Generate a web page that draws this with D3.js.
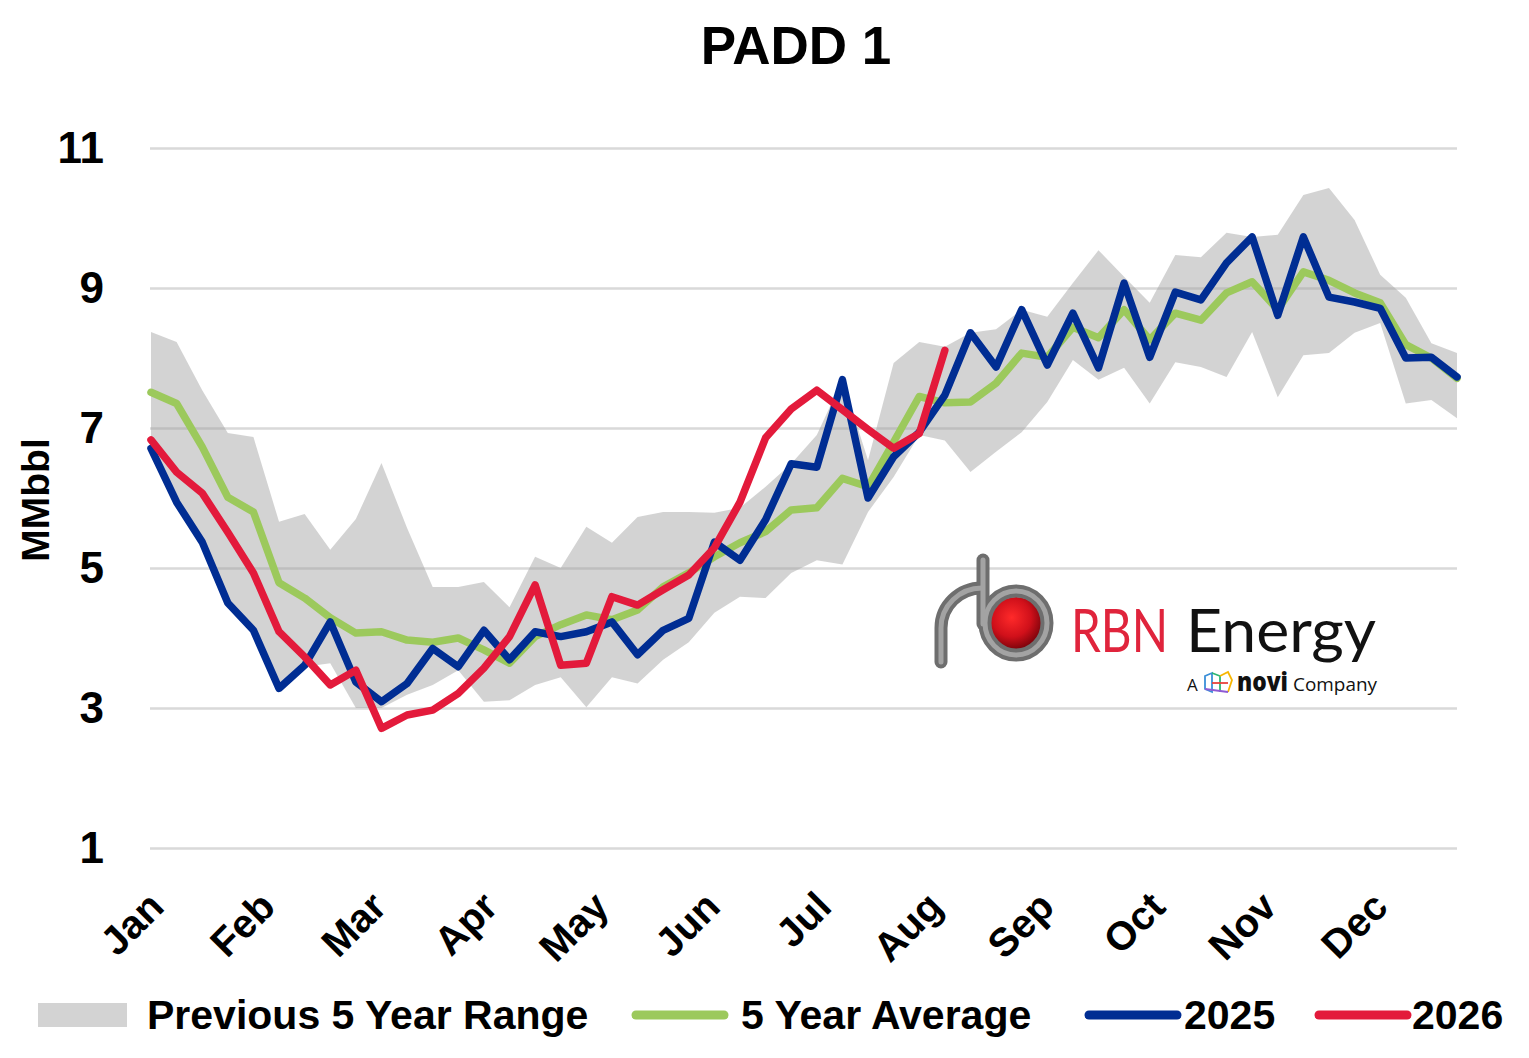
<!DOCTYPE html>
<html>
<head>
<meta charset="utf-8">
<script src="https://cdn.jsdelivr.net/npm/d3@7/dist/d3.min.js"></script>
<style>
    html, body { margin: 0; padding: 0; background: #fff; }
    svg { display: block; font-family: "Liberation Sans", Arial, sans-serif; }
    .grid line { stroke: #d9d9d9; stroke-width: 2.5; }
    .grid text { font-size: 44px; font-weight: bold; fill: #000; }
    .month { font-size: 40px; font-weight: bold; fill: #000; }
    .legend text { font-size: 41px; font-weight: bold; fill: #000; }
</style>
</head>
<body>
<svg id="chart" width="1529" height="1058"></svg>
<script>
/*global d3*/

// weekly inventory, MMbbl
const months = ["Jan", "Feb", "Mar", "Apr", "May", "Jun", "Jul", "Aug", "Sep", "Oct", "Nov", "Dec"];
const yTicks = [1, 3, 5, 7, 9, 11];

const rangeHigh = [8.37, 8.23, 7.54, 6.93, 6.87, 5.66, 5.77, 5.26, 5.70, 6.50, 5.57, 4.73, 4.73, 4.80, 4.44, 5.16,
    5.00, 5.59, 5.36, 5.73, 5.80, 5.80, 5.79, 5.86, 6.16, 6.49, 6.90, 7.69, 6.54, 7.93, 8.23, 8.16,
    8.36, 8.41, 8.69, 8.59, 9.07, 9.54, 9.16, 8.79, 9.47, 9.44, 9.79, 9.73, 9.76, 10.33, 10.43, 9.97,
    9.19, 8.86, 8.21, 8.07];
const rangeLow = [6.66, 5.90, 5.33, 4.46, 4.07, 3.26, 3.59, 3.64, 3.00, 3.00, 3.19, 3.33, 3.54, 3.09, 3.11, 3.33,
    3.44, 3.01, 3.44, 3.35, 3.69, 3.94, 4.36, 4.59, 4.57, 4.93, 5.11, 5.05, 5.80, 6.30, 6.90, 6.82,
    6.37, 6.66, 6.94, 7.37, 7.97, 7.69, 7.86, 7.35, 7.94, 7.87, 7.73, 8.37, 7.44, 8.04, 8.07, 8.36,
    8.50, 7.35, 7.40, 7.14];
const avg5 = [7.51, 7.35, 6.73, 6.01, 5.80, 4.79, 4.57, 4.29, 4.07, 4.09, 3.97, 3.94, 4.00, 3.83, 3.64, 4.02,
    4.19, 4.33, 4.26, 4.40, 4.73, 4.93, 5.16, 5.36, 5.52, 5.83, 5.86, 6.28, 6.16, 6.80, 7.45, 7.36,
    7.37, 7.64, 8.07, 8.01, 8.44, 8.29, 8.69, 8.26, 8.64, 8.54, 8.93, 9.09, 8.69, 9.23, 9.11, 8.93,
    8.79, 8.19, 8.00, 7.71];
const y2025 = [6.71, 5.94, 5.37, 4.50, 4.11, 3.28, 3.61, 4.23, 3.37, 3.09, 3.35, 3.85, 3.59, 4.11, 3.69, 4.09,
    4.02, 4.09, 4.23, 3.76, 4.11, 4.28, 5.37, 5.11, 5.69, 6.49, 6.44, 7.69, 6.00, 6.59, 6.94, 7.47,
    8.36, 7.87, 8.69, 7.90, 8.64, 7.86, 9.07, 8.01, 8.94, 8.83, 9.36, 9.73, 8.61, 9.73, 8.87, 8.80,
    8.71, 8.00, 8.01, 7.73];
const y2026 = [6.83, 6.37, 6.07, 5.51, 4.93, 4.09, 3.73, 3.33, 3.54, 2.71, 2.90, 2.97, 3.21, 3.57, 4.02, 4.76,
    3.61, 3.64, 4.59, 4.47, 4.69, 4.90, 5.29, 5.94, 6.86, 7.27, 7.54, 7.26, 6.98, 6.71, 6.92, 8.11];

const colors = {range: "#9d9d9d", avg: "#9cc95c", y2025: "#002d93", y2026: "#e31a3b"};

const svg = d3.select("#chart");
const left = 150, right = 1457;

const x = d3.scaleLinear().domain([0, rangeHigh.length - 1]).range([151, right]);
const y = d3.scaleLinear().domain([1, 11]).range([848, 148]);

// title
svg.append("text")
    .attr("x", 796).attr("y", 64)
    .attr("text-anchor", "middle")
    .style("font-size", "53px").style("font-weight", "bold")
    .text("PADD 1");

// y gridlines + labels
const grid = svg.append("g").attr("class", "grid")
    .attr("transform", "translate(" + left + ",0)")
    .call(d3.axisLeft(y).tickValues(yTicks).tickSize(-(right - left)).tickPadding(46).tickFormat(d3.format("d")));
grid.select(".domain").remove();

svg.append("text")
    .attr("transform", "translate(49,500) rotate(-90)")
    .attr("text-anchor", "middle")
    .style("font-size", "39px").style("font-weight", "bold")
    .text("MMbbl");

// previous 5 year range
const area = d3.area()
    .x((d, i) => x(i))
    .y0((d, i) => y(rangeLow[i]))
    .y1(d => y(d));
svg.append("path")
    .datum(rangeHigh)
    .attr("d", area)
    .attr("fill", colors.range)
    .attr("fill-opacity", 0.45);

const line = d3.line().x((d, i) => x(i)).y(d => y(d));
[[avg5, colors.avg], [y2025, colors.y2025], [y2026, colors.y2026]].forEach(([data, color]) => {
    svg.append("path")
        .datum(data)
        .attr("d", line)
        .attr("fill", "none")
        .attr("stroke", color)
        .attr("stroke-width", 7.5)
        .attr("stroke-linejoin", "round")
        .attr("stroke-linecap", "round");
});

// month labels
const weeksPerMonth = 365 / 12 / 7;
svg.append("g").selectAll("text")
    .data(months)
    .join("text")
        .attr("class", "month")
        .attr("text-anchor", "end")
        .attr("transform", (d, i) => "translate(" + (x(i * weeksPerMonth) + 15) + ",909) rotate(-45)")
        .text(d => d);

// legend
const legend = svg.append("g").attr("class", "legend");
legend.append("rect")
    .attr("x", 38).attr("y", 1003).attr("width", 89).attr("height", 24)
    .attr("fill", "#d3d3d3");
legend.append("text").attr("x", 147).attr("y", 1029).text("Previous 5 Year Range");

const legendLines = [
    {x1: 636, x2: 724, color: colors.avg, label: "5 Year Average", tx: 741},
    {x1: 1089, x2: 1177, color: colors.y2025, label: "2025", tx: 1184},
    {x1: 1319, x2: 1407, color: colors.y2026, label: "2026", tx: 1412}
];
legendLines.forEach(l => {
    legend.append("line")
        .attr("x1", l.x1).attr("x2", l.x2).attr("y1", 1015).attr("y2", 1015)
        .attr("stroke", l.color).attr("stroke-width", 9).attr("stroke-linecap", "round");
    legend.append("text").attr("x", l.tx).attr("y", 1029).text(l.label);
});

// RBN logo
const logo = svg.append("g").attr("class", "logo");
const defs = svg.append("defs");
const ball = defs.append("radialGradient").attr("id", "ball")
    .attr("cx", "0.42").attr("cy", "0.38").attr("r", "0.65");
ball.append("stop").attr("offset", "0").attr("stop-color", "#ff2a2a");
ball.append("stop").attr("offset", "0.55").attr("stop-color", "#d0101a");
ball.append("stop").attr("offset", "1").attr("stop-color", "#6a0008");

logo.append("circle").attr("cx", 1016).attr("cy", 624).attr("r", 27).attr("fill", "url(#ball)");

const pipeParts = [
    {d: "M941,662 L941,628 A41,40 0 0 1 982,588", cap: "round"},
    {d: "M983,560 L983,624", cap: "round"}
];
[["#6e6e6e", 13], ["#a3a3a3", 5]].forEach(([c, w]) => {
    pipeParts.forEach(p => logo.append("path").attr("d", p.d)
        .attr("fill", "none").attr("stroke", c).attr("stroke-width", w).attr("stroke-linecap", p.cap));
    logo.append("ellipse").attr("cx", 1016).attr("cy", 623).attr("rx", 31).attr("ry", 32)
        .attr("fill", "none").attr("stroke", c).attr("stroke-width", w);
});

logo.append("text").attr("x", 1071).attr("y", 652)
    .attr("textLength", 97).attr("lengthAdjust", "spacingAndGlyphs")
    .style("font-family", "Lato, 'Open Sans', sans-serif").style("font-weight", 400)
    .style("font-size", "60px").attr("fill", "#e0243c").text("RBN");
logo.append("text").attr("x", 1186).attr("y", 652)
    .attr("textLength", 190).attr("lengthAdjust", "spacingAndGlyphs")
    .style("font-family", "Lato, 'Open Sans', sans-serif").style("font-weight", 400)
    .style("font-size", "60px").attr("fill", "#111").text("Energy");
logo.append("text").attr("x", 1187).attr("y", 691)
    .style("font-family", "'Open Sans', sans-serif").style("font-size", "17px").attr("fill", "#111").text("A");
logo.append("text").attr("x", 1237).attr("y", 691)
    .attr("textLength", 51).attr("lengthAdjust", "spacingAndGlyphs")
    .style("font-family", "'Open Sans', sans-serif").style("font-weight", 800)
    .style("font-size", "27px").attr("fill", "#111").text("novi");
logo.append("text").attr("x", 1293).attr("y", 691)
    .attr("textLength", 84).attr("lengthAdjust", "spacingAndGlyphs")
    .style("font-family", "'Open Sans', sans-serif").style("font-size", "18px").attr("fill", "#111").text("Company");
// novi mark
const novi = [
    ["M1205,676 L1212,673 L1212,692 L1205,689 Z", "#3a8fd8"],
    ["M1212,673 L1220,676 L1220,692", "#2bb673"],
    ["M1220,676 L1228,672 L1232,680 L1228,692", "#f7b500"],
    ["M1212,683 L1228,683", "#e8423c"],
    ["M1205,689 L1228,692", "#8e5bd4"]
];
novi.forEach(([d, c]) => logo.append("path").attr("d", d).attr("fill", "none").attr("stroke", c).attr("stroke-width", 1.8));
</script>
</body>
</html>
